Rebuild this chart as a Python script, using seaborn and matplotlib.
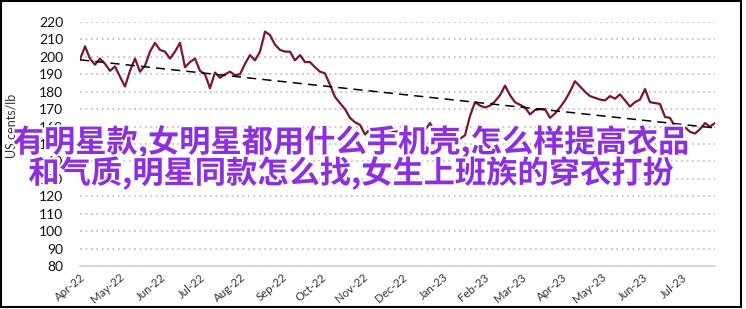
import numpy as np
import pandas as pd
import matplotlib
matplotlib.use("Agg")
import matplotlib.pyplot as plt
import matplotlib.dates as mdates
import matplotlib.patheffects as pe
from matplotlib.patches import Rectangle
import seaborn as sns

# ---------------- data ----------------
start_date = "2022-04-01"
end_date = "2023-07-26"
price = [198.5, 206, 199, 195.5, 199, 196, 192, 194.5, 188.6, 183,
         192, 199, 191.5, 195, 203, 208, 204, 203, 199, 203,
         208, 194, 197, 199, 192, 190, 182, 191, 188, 190,
         191.5, 189.5, 190, 196, 201, 198, 203, 214.5, 212.5, 207,
         204, 203, 203, 198, 201, 197, 197, 194, 191.5, 190.5,
         184, 177, 173.5, 170, 165, 162.5, 161, 155.5, 158.5, 156.5,
         156, 157, 158, 157, 157.5, 154, 155.5, 158, 159, 158,
         162, 157, 153, 149, 146, 150, 153, 155, 166, 174,
         172, 171, 172, 174.5, 178, 183.5, 178, 174, 172.5, 171,
         167, 169.5, 170, 170, 165, 167.5, 171, 175, 180, 186,
         183, 180, 177.5, 176.5, 175.5, 175, 177.5, 176, 178.5, 175,
         171.5, 174, 175.5, 181.5, 174, 173.5, 173, 165.5, 165, 160,
         157.5, 159.5, 157, 156, 158.5, 162, 160, 162]
trend_start = 198.3
trend_end = 159.2
y_ticks = list(range(80, 221, 10))
y_label = "US cents/lb"
title_line1 = "有明星款,女明星都用什么手机壳,怎么样提高衣品"
title_line2 = "和气质,明星同款怎么找,女生上班族的穿衣打扮"

dates = pd.date_range(start_date, end_date, periods=len(price))
df = pd.DataFrame({"date": dates, "price": price})

# ---------------- figure ----------------
sns.set_theme(style="white")
plt.rcParams["font.family"] = ["Lato", "DejaVu Sans"]

W, H = 746, 309
fig = plt.figure(figsize=(W / 100, H / 100), dpi=100)
fig.patch.set_facecolor("white")
ax = fig.add_axes([80 / W, 1 - 266 / H, (715 - 80) / W, (266 - 22) / H])

sns.lineplot(data=df, x="date", y="price", ax=ax, color="#7a1630", linewidth=1.6)
ax.plot([dates[0], dates[-1]], [trend_start, trend_end], color="black",
        linestyle=(0, (6, 4)), linewidth=1.1, zorder=3)

ax.set_xlim(dates[0], dates[-1])
ax.set_ylim(80, 220)
ax.set_yticks(y_ticks)
ax.yaxis.grid(True, linestyle=(0, (1, 2)), color="#c4c4c4", linewidth=1.3)
ax.xaxis.grid(False)
ax.set_axisbelow(True)

for s in ["top", "right", "left"]:
    ax.spines[s].set_visible(False)
ax.spines["bottom"].set_color("#d0d0d0")
ax.spines["bottom"].set_linewidth(1.2)

ax.xaxis.set_major_locator(mdates.MonthLocator())
ax.xaxis.set_major_formatter(mdates.DateFormatter("%b-%y"))
ax.tick_params(axis="x", length=0, pad=4, labelsize=8.2, labelcolor="#333333")
ax.tick_params(axis="y", length=0, pad=12, labelsize=10, labelcolor="#111111")
for lbl in ax.get_xticklabels():
    lbl.set_rotation(40)
    lbl.set_ha("right")
    lbl.set_rotation_mode("anchor")

ax.set_xlabel("")
ax.set_ylabel("")
fig.text(12 / W, 1 - 126 / H, y_label, rotation=90, ha="center", va="center",
         fontsize=9, color="#333333")

# border
fig.patches.append(Rectangle((1 / W, 1 - 307 / H), 740 / W, 306 / H,
                             transform=fig.transFigure, fill=False,
                             edgecolor="black", linewidth=1.5))

# overlay title
cjk = ["Noto Sans CJK SC", "DejaVu Sans"]
for txt, yc in [(title_line1, 142), (title_line2, 173)]:
    fig.text(351 / W, 1 - yc / H, txt, ha="center", va="center",
             fontsize=22.5, fontweight="bold", color="#8d2fe0",
             family=cjk, zorder=10,
             path_effects=[pe.withStroke(linewidth=3, foreground="white")])

fig.savefig("out.png", dpi=100)
